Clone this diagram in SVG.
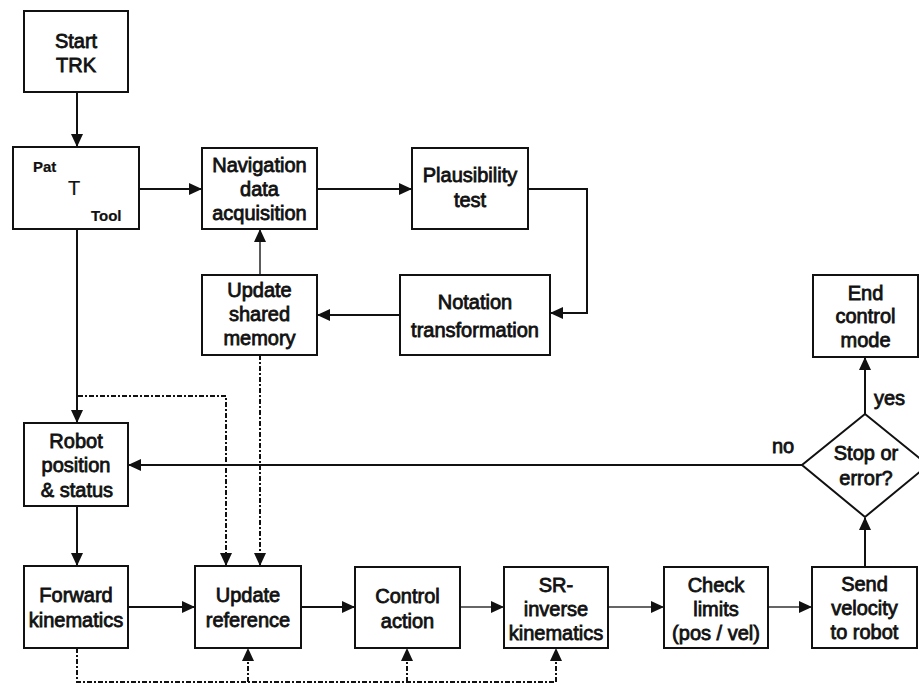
<svg xmlns="http://www.w3.org/2000/svg" width="919" height="686" viewBox="0 0 919 686">
  <style>
    .box { fill: #fff; stroke: #111; stroke-width: 2; }
    .lbl { font-family: "Liberation Sans", Arial, sans-serif; font-size: 20px; fill: #111; stroke: #111; stroke-width: 0.8; text-anchor: middle; }
    .sm { font-size: 15px; font-weight: bold; stroke-width: 0.2; text-anchor: start; }
    .big { font-size: 20px; text-anchor: start; stroke-width: 0.2; }
    .tag { text-anchor: start; }
    .wire { fill: none; stroke: #111; stroke-width: 2; }
    .grey { stroke: #333; stroke-width: 1.6; }
    .dd { fill: none; stroke: #111; stroke-width: 2; stroke-dasharray: 5 2 2 2; }
  </style>
  <defs>
    <marker id="arr" markerUnits="userSpaceOnUse" markerWidth="13" markerHeight="13" viewBox="0 0 13 13" refX="12" refY="6.5" orient="auto">
      <path d="M0,0.5 L13,6.5 L0,12.5 Z" fill="#111"/>
    </marker>
  </defs>
  <rect width="919" height="686" fill="#fff"/>

  <!-- connectors -->
  <g id="connectors">
    <path class="wire" d="M77,92 V146" marker-end="url(#arr)"/>
    <path class="wire" d="M139,189 H201" marker-end="url(#arr)"/>
    <path class="wire" d="M317,189 H411" marker-end="url(#arr)"/>
    <path class="wire" d="M528,189 H587 V313 H551" marker-end="url(#arr)"/>
    <path class="wire" d="M400,315 H318" marker-end="url(#arr)"/>
    <path class="wire grey" d="M260,275 V230" marker-end="url(#arr)"/>
    <path class="wire" d="M77,229 V422" marker-end="url(#arr)"/>
    <path class="wire" d="M77,506 V565" marker-end="url(#arr)"/>
    <path class="wire" d="M128,607 H194" marker-end="url(#arr)"/>
    <path class="wire" d="M301,607 H354" marker-end="url(#arr)"/>
    <path class="wire grey" d="M460,607 H503" marker-end="url(#arr)"/>
    <path class="wire grey" d="M608,607 H663" marker-end="url(#arr)"/>
    <path class="wire grey" d="M768,607 H811" marker-end="url(#arr)"/>
    <path class="wire" d="M865,567 V518" marker-end="url(#arr)"/>
    <path class="wire" d="M865,414 V358" marker-end="url(#arr)"/>
    <path class="wire" d="M802,465 H129" marker-end="url(#arr)"/>
    <!-- dash-dot data links -->
    <path class="dd" d="M78,396 H226 V565" marker-end="url(#arr)"/>
    <path class="dd" d="M260,355 V565" marker-end="url(#arr)"/>
    <path class="dd" d="M77,648 V682 H556"/>
    <path class="dd" d="M248,682 V649" marker-end="url(#arr)"/>
    <path class="dd" d="M407,682 V649" marker-end="url(#arr)"/>
    <path class="dd" d="M556,682 V649" marker-end="url(#arr)"/>
  </g>

  <g id="start">
    <rect class="box" x="24" y="11" width="104" height="81"/>
    <text class="lbl" x="76" y="48">Start</text>
    <text class="lbl" x="76" y="72">TRK</text>
  </g>
  <g id="transform">
    <rect class="box" x="13" y="147" width="126" height="82"/>
    <text class="lbl sm" x="33" y="172">Pat</text>
    <text class="lbl big" x="68" y="195">T</text>
    <text class="lbl sm" x="91" y="221">Tool</text>
  </g>
  <g id="navigation">
    <rect class="box" x="202" y="148" width="115" height="81"/>
    <text class="lbl" x="259.5" y="172">Navigation</text>
    <text class="lbl" x="259.5" y="196">data</text>
    <text class="lbl" x="259.5" y="220">acquisition</text>
  </g>
  <g id="plausibility">
    <rect class="box" x="412" y="148" width="116" height="81"/>
    <text class="lbl" x="470" y="182">Plausibility</text>
    <text class="lbl" x="470" y="207">test</text>
  </g>
  <g id="notation">
    <rect class="box" x="400" y="275" width="150" height="80"/>
    <text class="lbl" x="475" y="309">Notation</text>
    <text class="lbl" x="475" y="337">transformation</text>
  </g>
  <g id="shared-memory">
    <rect class="box" x="202" y="275" width="115" height="80"/>
    <text class="lbl" x="259.5" y="297">Update</text>
    <text class="lbl" x="259.5" y="321">shared</text>
    <text class="lbl" x="259.5" y="345">memory</text>
  </g>
  <g id="robot-status">
    <rect class="box" x="24" y="423" width="104" height="83"/>
    <text class="lbl" x="76" y="448">Robot</text>
    <text class="lbl" x="76" y="472">position</text>
    <text class="lbl" x="77" y="497">&amp; status</text>
  </g>
  <g id="forward">
    <rect class="box" x="24" y="566" width="104" height="82"/>
    <text class="lbl" x="76" y="602">Forward</text>
    <text class="lbl" x="76" y="627">kinematics</text>
  </g>
  <g id="update-reference">
    <rect class="box" x="195" y="566" width="106" height="82"/>
    <text class="lbl" x="248" y="602">Update</text>
    <text class="lbl" x="248" y="627">reference</text>
  </g>
  <g id="control">
    <rect class="box" x="355" y="567" width="105" height="81"/>
    <text class="lbl" x="407.5" y="603">Control</text>
    <text class="lbl" x="407.5" y="628">action</text>
  </g>
  <g id="inverse">
    <rect class="box" x="504" y="567" width="104" height="81"/>
    <text class="lbl" x="556" y="592">SR-</text>
    <text class="lbl" x="556" y="616">inverse</text>
    <text class="lbl" x="556" y="640">kinematics</text>
  </g>
  <g id="limits">
    <rect class="box" x="664" y="567" width="104" height="81"/>
    <text class="lbl" x="716" y="592">Check</text>
    <text class="lbl" x="716" y="616">limits</text>
    <text class="lbl" x="716" y="640">(pos / vel)</text>
  </g>
  <g id="send">
    <rect class="box" x="812" y="567" width="105" height="81"/>
    <text class="lbl" x="864.5" y="591">Send</text>
    <text class="lbl" x="864.5" y="615">velocity</text>
    <text class="lbl" x="864.5" y="639">to robot</text>
  </g>
  <g id="decision">
    <polygon class="box" points="865,414 928,465 865,517 802,465"/>
    <text class="lbl" x="866" y="460">Stop or</text>
    <text class="lbl" x="866" y="485">error?</text>
    <text class="lbl tag" x="874" y="405">yes</text>
    <text class="lbl tag" x="772" y="453">no</text>
  </g>
  <g id="end">
    <rect class="box" x="813" y="275" width="105" height="82"/>
    <text class="lbl" x="865.5" y="300">End</text>
    <text class="lbl" x="865.5" y="323">control</text>
    <text class="lbl" x="865.5" y="347">mode</text>
  </g>
</svg>
